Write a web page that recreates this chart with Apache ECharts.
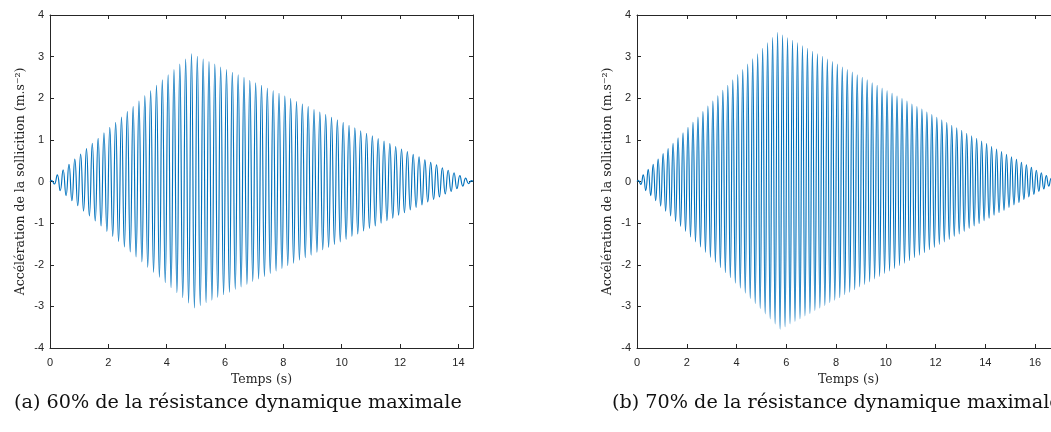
<!DOCTYPE html>
<html>
<head>
<meta charset="utf-8">
<script src="https://cdn.jsdelivr.net/npm/echarts@6/dist/echarts.min.js"></script>
<style>
html,body{margin:0;padding:0;background:#fff;}
#c{width:1051px;height:432px;}
</style>
</head>
<body>
<div id="c"></div>
<script>
// ---------- Panel (a): 60% ----------
const tPosA = [0.05,0.25,0.45,0.65,0.85,1.05,1.25,1.45,1.65,1.85,2.05,2.25,2.45,2.65,2.85,3.05,3.25,3.45,3.65,3.85,4.05,4.25,4.45,4.65,4.85,5.05,5.25,5.45,5.65,5.85,6.05,6.25,6.45,6.65,6.85,7.05,7.25,7.45,7.65,7.85,8.05,8.25,8.45,8.65,8.85,9.05,9.25,9.45,9.65,9.85,10.05,10.25,10.45,10.65,10.85,11.05,11.25,11.45,11.65,11.85,12.05,12.25,12.45,12.65,12.85,13.05,13.25,13.45,13.65,13.85,14.05,14.25,14.45];
const vPosA = [0.03,0.16,0.28,0.41,0.54,0.66,0.79,0.92,1.04,1.17,1.30,1.42,1.55,1.68,1.80,1.93,2.06,2.18,2.31,2.44,2.56,2.69,2.82,2.94,3.07,3.01,2.94,2.88,2.82,2.75,2.69,2.62,2.56,2.50,2.43,2.37,2.31,2.24,2.18,2.12,2.05,1.99,1.92,1.86,1.80,1.73,1.67,1.61,1.54,1.48,1.42,1.35,1.29,1.22,1.16,1.10,1.03,0.97,0.91,0.84,0.78,0.72,0.65,0.59,0.52,0.46,0.40,0.33,0.27,0.21,0.14,0.08,0.02];
const tNegA = [0.15,0.35,0.55,0.75,0.95,1.15,1.35,1.55,1.75,1.95,2.15,2.35,2.55,2.75,2.95,3.15,3.35,3.55,3.75,3.95,4.15,4.35,4.55,4.75,4.95,5.15,5.35,5.55,5.75,5.95,6.15,6.35,6.55,6.75,6.95,7.15,7.35,7.55,7.75,7.95,8.15,8.35,8.55,8.75,8.95,9.15,9.35,9.55,9.75,9.95,10.15,10.35,10.55,10.75,10.95,11.15,11.35,11.55,11.75,11.95,12.15,12.35,12.55,12.75,12.95,13.15,13.35,13.55,13.75,13.95,14.15,14.35];
const vNegA = [-0.06,-0.22,-0.34,-0.46,-0.58,-0.71,-0.83,-0.95,-1.07,-1.20,-1.32,-1.44,-1.57,-1.69,-1.81,-1.93,-2.06,-2.18,-2.30,-2.43,-2.55,-2.67,-2.79,-2.92,-3.04,-2.98,-2.91,-2.85,-2.78,-2.72,-2.66,-2.59,-2.53,-2.47,-2.40,-2.34,-2.28,-2.21,-2.15,-2.09,-2.02,-1.96,-1.89,-1.83,-1.77,-1.70,-1.64,-1.58,-1.51,-1.45,-1.39,-1.32,-1.26,-1.19,-1.13,-1.07,-1.00,-0.94,-0.88,-0.81,-0.75,-0.68,-0.62,-0.56,-0.49,-0.43,-0.37,-0.30,-0.24,-0.17,-0.11,-0.05];
const endsA = [[0, 0], [14.5, 0]];

// ---------- Panel (b): 70% ----------
const tPosB = [0.05,0.25,0.45,0.65,0.85,1.05,1.25,1.45,1.65,1.85,2.05,2.25,2.45,2.65,2.85,3.05,3.25,3.45,3.65,3.85,4.05,4.25,4.45,4.65,4.85,5.05,5.25,5.45,5.65,5.85,6.05,6.25,6.45,6.65,6.85,7.05,7.25,7.45,7.65,7.85,8.05,8.25,8.45,8.65,8.85,9.05,9.25,9.45,9.65,9.85,10.05,10.25,10.45,10.65,10.85,11.05,11.25,11.45,11.65,11.85,12.05,12.25,12.45,12.65,12.85,13.05,13.25,13.45,13.65,13.85,14.05,14.25,14.45,14.65,14.85,15.05,15.25,15.45,15.65,15.85,16.05,16.25,16.45,16.65,16.85];
const vPosB = [0.03,0.16,0.29,0.41,0.54,0.67,0.79,0.92,1.05,1.17,1.30,1.43,1.55,1.68,1.81,1.93,2.06,2.19,2.31,2.44,2.57,2.69,2.82,2.95,3.07,3.20,3.33,3.46,3.58,3.52,3.45,3.39,3.33,3.26,3.20,3.13,3.07,3.01,2.94,2.88,2.82,2.75,2.69,2.63,2.56,2.50,2.44,2.37,2.31,2.24,2.18,2.12,2.05,1.99,1.93,1.86,1.80,1.74,1.67,1.61,1.54,1.48,1.42,1.35,1.29,1.23,1.16,1.10,1.04,0.97,0.91,0.84,0.78,0.72,0.65,0.59,0.53,0.46,0.40,0.34,0.27,0.21,0.14,0.08,0.02];
const tNegB = [0.15,0.35,0.55,0.75,0.95,1.15,1.35,1.55,1.75,1.95,2.15,2.35,2.55,2.75,2.95,3.15,3.35,3.55,3.75,3.95,4.15,4.35,4.55,4.75,4.95,5.15,5.35,5.55,5.75,5.95,6.15,6.35,6.55,6.75,6.95,7.15,7.35,7.55,7.75,7.95,8.15,8.35,8.55,8.75,8.95,9.15,9.35,9.55,9.75,9.95,10.15,10.35,10.55,10.75,10.95,11.15,11.35,11.55,11.75,11.95,12.15,12.35,12.55,12.75,12.95,13.15,13.35,13.55,13.75,13.95,14.15,14.35,14.55,14.75,14.95,15.15,15.35,15.55,15.75,15.95,16.15,16.35,16.55,16.75];
const vNegB = [-0.07,-0.22,-0.34,-0.46,-0.59,-0.71,-0.83,-0.96,-1.08,-1.20,-1.33,-1.45,-1.57,-1.70,-1.82,-1.94,-2.07,-2.19,-2.31,-2.44,-2.56,-2.68,-2.81,-2.93,-3.05,-3.18,-3.30,-3.42,-3.55,-3.49,-3.42,-3.36,-3.30,-3.23,-3.17,-3.10,-3.04,-2.98,-2.91,-2.85,-2.79,-2.72,-2.66,-2.60,-2.53,-2.47,-2.41,-2.34,-2.28,-2.21,-2.15,-2.09,-2.02,-1.96,-1.90,-1.83,-1.77,-1.71,-1.64,-1.58,-1.51,-1.45,-1.39,-1.32,-1.26,-1.20,-1.13,-1.07,-1.01,-0.94,-0.88,-0.81,-0.75,-0.69,-0.62,-0.56,-0.50,-0.43,-0.37,-0.31,-0.24,-0.18,-0.11,-0.05];
const endsB = [[0, 0], [17.0, 0]];

// ---------- Axes / text ----------
const xRangeA = [0, 14.5];
const xRangeB = [0, 17];
const xStep = 2;
const yRange = [-4, 4];
const yStep = 1;
const yTitle = 'Accélération de la sollicition (m.s\u207B\u00B2)';
const xTitle = 'Temps (s)';
const captionA = '(a) 60% de la résistance dynamique maximale';
const captionB = '(b) 70% de la résistance dynamique maximale';

function buildSignal(tp, vp, tn, vn, ends) {
  const pts = [];
  tp.forEach((t, i) => pts.push([t, vp[i]]));
  tn.forEach((t, i) => pts.push([t, vn[i]]));
  ends.forEach(p => pts.push(p));
  pts.sort((a, b) => a[0] - b[0]);
  return pts;
}

const AX = '#262626';
const labelStyle = {color: AX, fontFamily: '"Liberation Sans", Arial, sans-serif', fontSize: 11};
const titleStyle = {color: AX, fontFamily: '"DejaVu Serif", serif', fontSize: 12.5};

function xAxes(gridIndex, range) {
  return [{
    type: 'value', gridIndex, position: 'bottom', min: range[0], max: range[1], interval: xStep,
    axisLine: {show: true, onZero: false, lineStyle: {color: AX, width: 1}},
    axisTick: {show: true, inside: true, length: 4, lineStyle: {color: AX}},
    axisLabel: {show: true, margin: 9, showMaxLabel: false, ...labelStyle},
    splitLine: {show: false},
    name: xTitle, nameLocation: 'middle', nameGap: 24, nameTextStyle: titleStyle
  }, {
    type: 'value', gridIndex, position: 'top', min: range[0], max: range[1], interval: xStep,
    axisLine: {show: true, onZero: false, lineStyle: {color: AX, width: 1}},
    axisTick: {show: true, inside: true, length: 4, lineStyle: {color: AX}},
    axisLabel: {show: false}, splitLine: {show: false}
  }];
}
function yAxes(gridIndex) {
  return [{
    type: 'value', gridIndex, position: 'left', min: yRange[0], max: yRange[1], interval: yStep,
    axisLine: {show: true, onZero: false, lineStyle: {color: AX, width: 1}},
    axisTick: {show: true, inside: true, length: 4, lineStyle: {color: AX}},
    axisLabel: {show: true, margin: 6, ...labelStyle},
    splitLine: {show: false},
    name: yTitle, nameLocation: 'middle', nameGap: 23, nameTextStyle: titleStyle
  }, {
    type: 'value', gridIndex, position: 'right', min: yRange[0], max: yRange[1], interval: yStep,
    axisLine: {show: true, onZero: false, lineStyle: {color: AX, width: 1}},
    axisTick: {show: true, inside: true, length: 4, lineStyle: {color: AX}},
    axisLabel: {show: false}, splitLine: {show: false}
  }];
}

const chart = echarts.init(document.getElementById('c'), null, {renderer: 'canvas'});
const lineStyle = {color: '#0072BD', width: 1.15};
const capFont = {fontFamily: '"DejaVu Serif", serif', fontSize: 19.2, fill: '#111', align: 'left', verticalAlign: 'middle'};
chart.setOption({
  animation: false,
  backgroundColor: '#fff',
  grid: [
    {left: 50, top: 15, width: 423, height: 333, containLabel: false, outerBoundsMode: 'none'},
    {left: 637, top: 15, width: 423, height: 333, containLabel: false, outerBoundsMode: 'none'}
  ],
  xAxis: [...xAxes(0, xRangeA), ...xAxes(1, xRangeB)],
  yAxis: [...yAxes(0), ...yAxes(1)],
  series: [
    {type: 'line', xAxisIndex: 0, yAxisIndex: 0, data: buildSignal(tPosA, vPosA, tNegA, vNegA, endsA),
     showSymbol: false, symbol: 'none', smooth: 0.5, lineStyle, clip: true},
    {type: 'line', xAxisIndex: 2, yAxisIndex: 2, data: buildSignal(tPosB, vPosB, tNegB, vNegB, endsB),
     showSymbol: false, symbol: 'none', smooth: 0.5, lineStyle, clip: true}
  ],
  graphic: [
    {type: 'text', x: 14, y: 403, style: {text: captionA, ...capFont}},
    {type: 'text', x: 612, y: 403, style: {text: captionB, ...capFont}}
  ]
});
</script>
</body>
</html>
